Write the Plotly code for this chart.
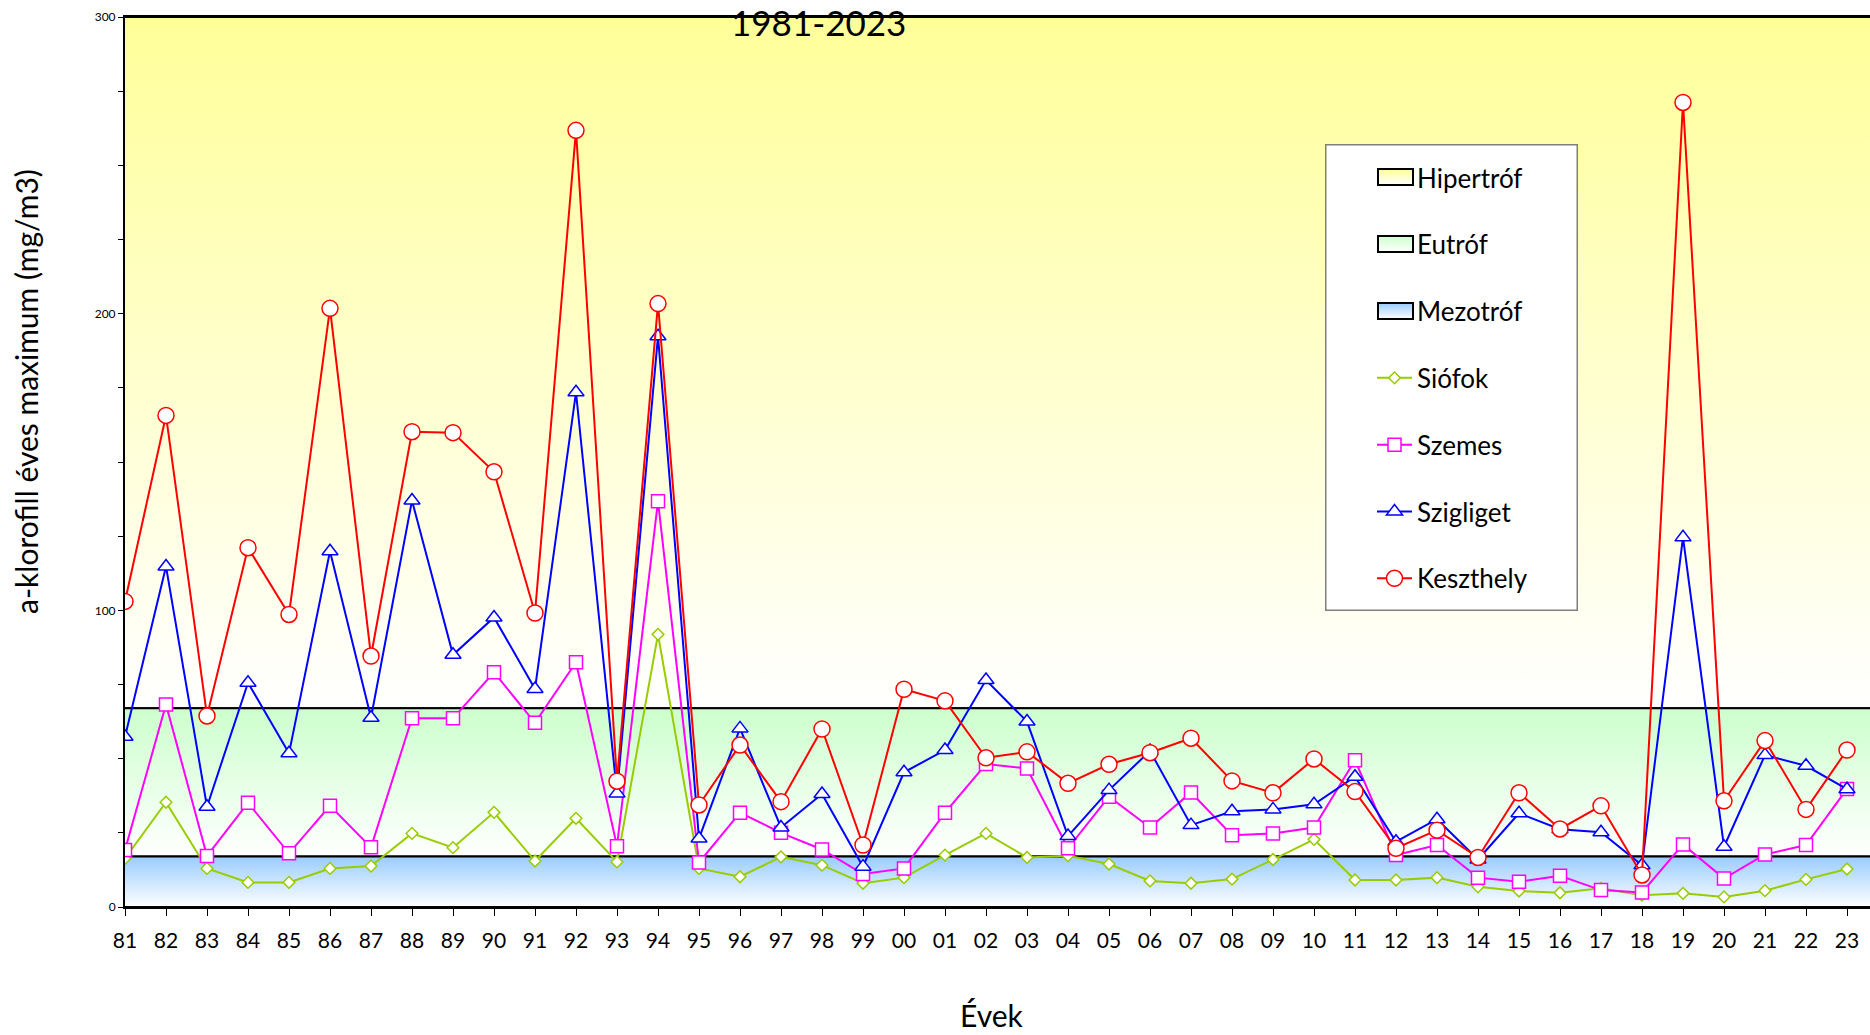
import base64
import plotly.graph_objects as go

years = ['81', '82', '83', '84', '85', '86', '87', '88', '89', '90', '91', '92', '93', '94', '95',
         '96', '97', '98', '99', '00', '01', '02', '03', '04', '05', '06', '07', '08', '09',
         '10', '11', '12', '13', '14', '15', '16', '17', '18', '19', '20', '21', '22', '23']

siofok = [16.4, 35.3, 13.0, 8.3, 8.3, 13.0, 13.8, 24.8, 20.0, 31.9, 15.5, 29.9, 15.2, 91.9, 13.0,
          10.2, 16.9, 14.1, 8.0, 9.9, 17.5, 24.8, 16.7, 17.3, 14.5, 8.8, 8.0, 9.4, 16.0,
          22.8, 9.1, 9.1, 9.9, 6.8, 5.4, 4.8, 6.3, 4.0, 4.6, 3.4, 5.5, 9.3, 12.8]
szemes = [19.2, 68.3, 17.2, 35.1, 18.1, 34.1, 20.1, 63.6, 63.6, 79.1, 62.1, 82.5, 20.5, 136.8, 15.0,
          31.8, 25.0, 19.4, 11.1, 13.0, 31.8, 48.2, 46.7, 19.8, 37.2, 26.8, 38.6, 24.2, 24.8,
          26.8, 49.5, 17.5, 20.9, 9.9, 8.5, 10.5, 5.7, 4.9, 21.1, 9.6, 17.7, 20.9, 39.8]
szigliget = [57.4, 114.8, 33.8, 75.6, 51.8, 119.9, 63.8, 137.0, 85.0, 97.6, 73.5, 173.5, 38.3, 192.4, 23.1,
             60.2, 26.8, 38.1, 13.6, 45.4, 52.9, 76.5, 62.5, 23.9, 39.4, 52.6, 27.6, 32.3, 32.9,
             34.6, 43.9, 22.0, 29.6, 16.0, 31.6, 26.2, 25.2, 14.1, 124.6, 20.3, 51.2, 47.6, 39.7]
keszthely = [103.0, 165.7, 64.4, 121.1, 98.6, 201.8, 84.6, 160.2, 159.9, 146.7, 99.1, 261.8, 42.4, 203.4, 34.4,
             54.6, 35.5, 60.0, 20.9, 73.4, 69.5, 50.3, 52.3, 41.7, 48.1, 52.0, 56.9, 42.5, 38.5,
             49.9, 38.9, 19.8, 25.9, 16.7, 38.5, 26.3, 34.1, 10.8, 271.2, 35.8, 56.1, 32.9, 52.9]

# trophic bands
band_names = ['Hipertróf', 'Eutróf', 'Mezotróf']
band_lower = [67, 17, 0]
band_upper = [300, 67, 17]
band_colors = ['#FFFF99', '#CCFFCC', '#99CCFF']

FONT = 'Lato'
W, H = 1870, 1035
ML, MR, MT, MB = 125, 0, 17, 128
PW, PH = W - ML - MR, H - MT - MB


def px_x(px):
    return (px - ML) / PW


def px_y(py):
    return 1 - (py - MT) / PH


x_idx = list(range(len(years)))
x_max = PW / 41.0
fig = go.Figure()

for name, lo, hi, col in zip(band_names, band_lower, band_upper, band_colors):
    fig.add_trace(go.Scatter(
        x=[-1, len(years) + 1, len(years) + 1, -1, -1],
        y=[lo, lo, hi, hi, lo],
        mode='lines', fill='toself', name=name, showlegend=False,
        line=dict(color='black', width=2),
        fillgradient=dict(type='vertical', start=lo, stop=hi,
                          colorscale=[[0, 'white'], [1, col]]),
        hoverinfo='skip'))

# legend-only entries for the bands (glyphs drawn in the legend frame image)
for name in band_names:
    fig.add_trace(go.Scatter(
        x=[None], y=[None], mode='lines', name=name, legendgroup=name,
        line=dict(color='rgba(0,0,0,0)', width=0)))

series = [
    ('Siófok', siofok, '#99CC00', 'diamond', 9),
    ('Szemes', szemes, '#FF00FF', 'square', 13),
    ('Szigliget', szigliget, '#0000FF', 'triangle-up', 14),
    ('Keszthely', keszthely, '#FF0000', 'circle', 16),
]
for name, vals, col, sym, sz in series:
    fig.add_trace(go.Scatter(
        x=x_idx, y=vals, mode='lines+markers', name=name, legendgroup=name,
        line=dict(color=col, width=2),
        marker=dict(symbol=sym, size=sz, color='white',
                    line=dict(color=col, width=1.5))))

# legend frame with gradient swatches, as an SVG image
box_l, box_t, box_r, box_b = 1325, 144, 1578, 611
bw, bh = box_r - box_l, box_b - box_t
sw_x, sw_w, sw_h = 53, 35, 16
sw_tops = [25, 92, 159]
grads = ''
rects = ''
for i, (col, top) in enumerate(zip(band_colors, sw_tops)):
    grads += (f'<linearGradient id="g{i}" x1="0" y1="0" x2="0" y2="1">'
              f'<stop offset="0" stop-color="{col}"/><stop offset="1" stop-color="#ffffff"/>'
              f'</linearGradient>')
    rects += (f'<rect x="{sw_x}" y="{top}" width="{sw_w}" height="{sw_h}" fill="url(#g{i})" '
              f'stroke="black" stroke-width="2"/>')
svg = (f'<svg xmlns="http://www.w3.org/2000/svg" width="{bw}" height="{bh}" '
       f'viewBox="0 0 {bw} {bh}" preserveAspectRatio="none"><defs>{grads}</defs>'
       f'<rect x="0.75" y="0.75" width="{bw - 1.5}" height="{bh - 1.5}" fill="white" '
       f'stroke="#7f7f7f" stroke-width="1.5"/>{rects}</svg>')
src = 'data:image/svg+xml;base64,' + base64.b64encode(svg.encode('utf-8')).decode('ascii')
fig.add_layout_image(source=src, xref='paper', yref='paper', x=px_x(box_l), y=px_y(box_t),
                     sizex=bw / PW, sizey=bh / PH, xanchor='left', yanchor='top',
                     sizing='stretch', layer='above')

fig.add_annotation(text='1981-2023', xref='paper', yref='paper', x=px_x(818), y=px_y(22),
                   xanchor='center', yanchor='middle', showarrow=False,
                   font=dict(family=FONT, size=35, color='black'))
fig.add_annotation(text='a-klorofill éves maximum (mg/m3)', xref='paper', yref='paper',
                   x=px_x(26), y=px_y(392), textangle=-90, xanchor='center', yanchor='middle',
                   showarrow=False, font=dict(family=FONT, size=30, color='black'))
fig.add_annotation(text='Évek', xref='paper', yref='paper', x=px_x(992), y=px_y(1015),
                   xanchor='center', yanchor='middle', showarrow=False,
                   font=dict(family=FONT, size=30, color='black'))

fig.update_layout(
    width=W, height=H,
    margin=dict(l=ML, r=MR, t=MT, b=MB),
    paper_bgcolor='white', plot_bgcolor='white',
    font=dict(family=FONT, color='black'),
    showlegend=True,
    legend=dict(x=px_x(1372), y=0.846, xanchor='left', yanchor='top',
                bgcolor='rgba(0,0,0,0)', borderwidth=0,
                font=dict(family=FONT, size=26, color='black'),
                tracegroupgap=30, traceorder='grouped', itemwidth=35),
    xaxis=dict(range=[0, x_max], tickmode='array', tickvals=x_idx, ticktext=years,
               showgrid=False, zeroline=False, showline=True, linecolor='black',
               linewidth=2, mirror=True, ticks='outside', ticklen=7, tickwidth=1,
               tickcolor='black', tickfont=dict(family=FONT, size=21),
               ticklabelstandoff=7),
    yaxis=dict(range=[0, 300], tickmode='linear', tick0=0, dtick=100,
               showgrid=False, zeroline=False, showline=True, linecolor='black',
               linewidth=2, ticks='outside', ticklen=5, tickwidth=1, tickcolor='black',
               tickfont=dict(family=FONT, size=12),
               minor=dict(dtick=25, ticks='outside', ticklen=5, tickcolor='black',
                          tickwidth=1, showgrid=False)),
)

fig.write_html('out.html', config={'displayModeBar': False},
               post_script="document.body.style.margin='0';document.body.style.overflow='hidden';")
